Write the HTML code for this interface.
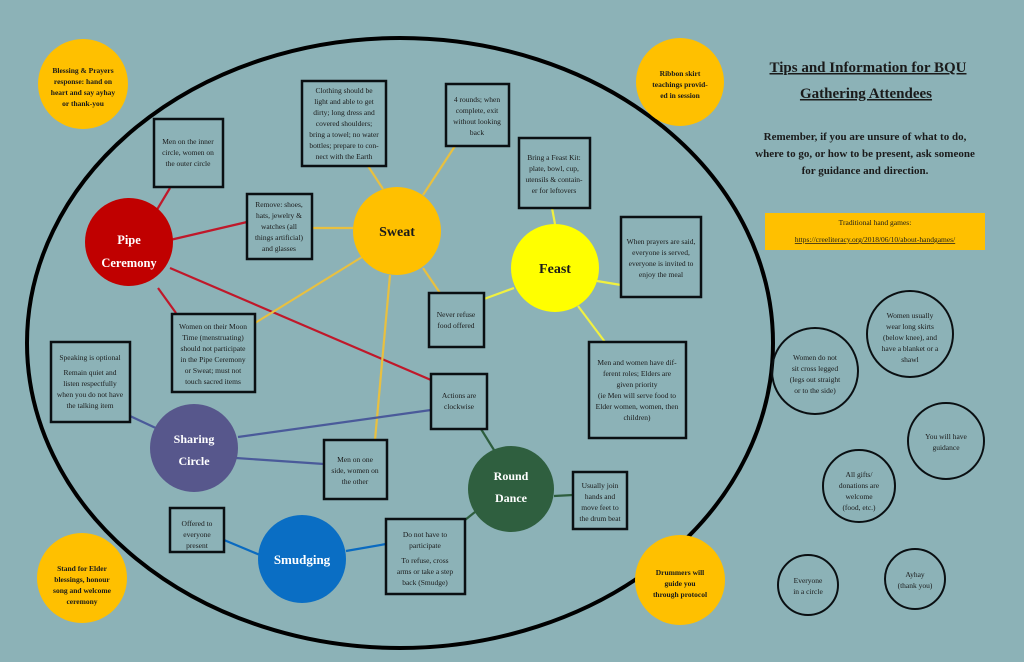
<!DOCTYPE html>
<html><head><meta charset="utf-8"><style>
html,body{margin:0;padding:0;background:#8cb2b7;}
svg{display:block}
text{font-family:"Liberation Serif",serif;fill:#1a1a1a}
.s{font-size:7.5px}
.b{font-size:14px;font-weight:bold}
</style></head><body>
<svg width="1024" height="662" viewBox="0 0 1024 662" xmlns="http://www.w3.org/2000/svg">
<rect width="1024" height="662" fill="#8cb2b7"/>
<ellipse cx="400" cy="343" rx="373" ry="305" fill="none" stroke="#000" stroke-width="4"/>
<g stroke-width="2.2" fill="none">
<g stroke="#c0182a">
<line x1="152" y1="218" x2="170" y2="188"/>
<line x1="170" y1="240" x2="247" y2="222"/>
<line x1="158" y1="288" x2="176" y2="313"/>
<line x1="170" y1="268" x2="431" y2="380"/>
</g>
<g stroke="#e8c040">
<line x1="383" y1="189" x2="368" y2="166"/>
<line x1="423" y1="195" x2="455" y2="146"/>
<line x1="353" y1="228" x2="313" y2="228"/>
<line x1="362" y1="257" x2="255" y2="323"/>
<line x1="390" y1="275" x2="375" y2="440"/>
<line x1="423" y1="268" x2="440" y2="293"/>
</g>
<g stroke="#f0f040">
<line x1="555" y1="224" x2="552" y2="208"/>
<line x1="597" y1="281" x2="621" y2="285"/>
<line x1="578" y1="306" x2="605" y2="342"/>
<line x1="514" y1="288" x2="484" y2="299"/>
</g>
<g stroke="#4a5a9a">
<line x1="130" y1="416" x2="160" y2="430"/>
<line x1="238" y1="437" x2="431" y2="410"/>
<line x1="236" y1="458" x2="324" y2="464"/>
</g>
<g stroke="#2e5e3e">
<line x1="481" y1="429" x2="494" y2="450"/>
<line x1="554" y1="496" x2="573" y2="495"/>
<line x1="475" y1="512" x2="465" y2="520"/>
</g>
<g stroke="#0a6ac0">
<line x1="224" y1="540" x2="260" y2="555"/>
<line x1="346" y1="551" x2="386" y2="544"/>
</g>
</g>
<g fill="#ffc000">
<circle cx="83" cy="84" r="45"/><circle cx="680" cy="82" r="44"/>
<circle cx="82" cy="578" r="45"/><circle cx="680" cy="580" r="45"/>
</g>
<g class="s" text-anchor="middle" font-weight="bold">
<text x="83" y="73">Blessing &amp; Prayers</text><text x="83" y="84">response: hand on</text><text x="83" y="95">heart and say ayhay</text><text x="83" y="106">or thank-you</text>
<text x="680" y="76">Ribbon skirt</text><text x="680" y="87">teachings provid-</text><text x="680" y="98">ed in session</text>
<text x="82" y="571">Stand for Elder</text><text x="82" y="582">blessings, honour</text><text x="82" y="593">song and welcome</text><text x="82" y="604">ceremony</text>
<text x="680" y="575">Drummers will</text><text x="680" y="586">guide you</text><text x="680" y="597">through protocol</text>
</g>
<circle cx="129" cy="242" r="44" fill="#c00000"/>
<circle cx="397" cy="231" r="44" fill="#ffc000"/>
<circle cx="555" cy="268" r="44" fill="#ffff00"/>
<circle cx="194" cy="448" r="44" fill="#57578c"/>
<circle cx="511" cy="489" r="43" fill="#2f5f3f"/>
<circle cx="302" cy="559" r="44" fill="#0a6ec4"/>
<g class="b" text-anchor="middle">
<text x="129" y="244" style="fill:#fff;font-size:12.5px">Pipe</text><text x="129" y="267" style="fill:#fff;font-size:12.5px">Ceremony</text>
<text x="397" y="236">Sweat</text>
<text x="555" y="273">Feast</text>
<text x="194" y="443" style="fill:#fff;font-size:12px">Sharing</text><text x="194" y="465" style="fill:#fff;font-size:12px">Circle</text>
<text x="511" y="480" style="fill:#fff;font-size:12px">Round</text><text x="511" y="502" style="fill:#fff;font-size:12px">Dance</text>
<text x="302" y="564" style="fill:#fff;font-size:13px">Smudging</text>
</g>
<g fill="none" stroke="#0a0f12" stroke-width="2.5">
<rect x="154" y="119" width="69" height="68"/>
<rect x="302" y="81" width="84" height="85"/>
<rect x="446" y="84" width="63" height="62"/>
<rect x="247" y="194" width="65" height="65"/>
<rect x="519" y="138" width="71" height="70"/>
<rect x="621" y="217" width="80" height="80"/>
<rect x="429" y="293" width="55" height="54"/>
<rect x="172" y="314" width="83" height="78"/>
<rect x="589" y="342" width="97" height="96"/>
<rect x="431" y="374" width="56" height="55"/>
<rect x="51" y="342" width="79" height="80"/>
<rect x="324" y="440" width="63" height="59"/>
<rect x="573" y="472" width="54" height="57"/>
<rect x="170" y="508" width="54" height="44"/>
<rect x="386" y="519" width="79" height="75"/>
</g>
<g class="s" text-anchor="middle">
<text x="188" y="144">Men on the inner</text><text x="188" y="155">circle, women on</text><text x="188" y="166">the outer circle</text>
<text x="344" y="93">Clothing should be</text><text x="344" y="104">light and able to get</text><text x="344" y="115">dirty; long dress and</text><text x="344" y="126">covered shoulders;</text><text x="344" y="137">bring a towel; no water</text><text x="344" y="148">bottles; prepare to con-</text><text x="344" y="159">nect with the Earth</text>
<text x="477" y="102">4 rounds; when</text><text x="477" y="113">complete, exit</text><text x="477" y="124">without looking</text><text x="477" y="135">back</text>
<text x="279" y="207">Remove: shoes,</text><text x="279" y="218">hats, jewelry &amp;</text><text x="279" y="229">watches (all</text><text x="279" y="240">things artificial)</text><text x="279" y="251">and glasses</text>
<text x="554" y="160">Bring a Feast Kit:</text><text x="554" y="171">plate, bowl, cup,</text><text x="554" y="182">utensils &amp; contain-</text><text x="554" y="193">er for leftovers</text>
<text x="661" y="244">When prayers are said,</text><text x="661" y="255">everyone is served,</text><text x="661" y="266">everyone is invited to</text><text x="661" y="277">enjoy the meal</text>
<text x="456" y="317">Never refuse</text><text x="456" y="328">food offered</text>
<text x="213" y="329">Women on their Moon</text><text x="213" y="340">Time (menstruating)</text><text x="213" y="351">should not participate</text><text x="213" y="362">in the Pipe Ceremony</text><text x="213" y="373">or Sweat; must not</text><text x="213" y="384">touch sacred items</text>
<text x="637" y="365">Men and women have dif-</text><text x="637" y="376">ferent roles; Elders are</text><text x="637" y="387">given priority</text><text x="637" y="398">(ie Men will serve food to</text><text x="637" y="409">Elder women, women, then</text><text x="637" y="420">children)</text>
<text x="459" y="398">Actions are</text><text x="459" y="409">clockwise</text>
<text x="90" y="360">Speaking is optional</text><text x="90" y="375">Remain quiet and</text><text x="90" y="386">listen respectfully</text><text x="90" y="397">when you do not have</text><text x="90" y="408">the talking item</text>
<text x="355" y="462">Men on one</text><text x="355" y="473">side, women on</text><text x="355" y="484">the other</text>
<text x="600" y="488">Usually join</text><text x="600" y="499">hands and</text><text x="600" y="510">move feet to</text><text x="600" y="521">the drum beat</text>
<text x="197" y="526">Offered to</text><text x="197" y="537">everyone</text><text x="197" y="548">present</text>
<text x="425" y="537">Do not have to</text><text x="425" y="548">participate</text><text x="425" y="563">To refuse, cross</text><text x="425" y="574">arms or take a step</text><text x="425" y="585">back (Smudge)</text>
</g>
<g text-anchor="middle" style="font-weight:bold">
<text x="868" y="72" style="font-size:15px;text-decoration:underline">Tips and Information for BQU</text>
<text x="866" y="98" style="font-size:15px;text-decoration:underline">Gathering Attendees</text>
<text x="865" y="140" style="font-size:11px">Remember, if you are unsure of  what to do,</text>
<text x="865" y="157" style="font-size:11px">where to go, or how to be present, ask someone</text>
<text x="865" y="174" style="font-size:11px">for guidance and direction.</text>
</g>
<rect x="765" y="213" width="220" height="37" fill="#ffc000"/>
<text class="s" x="875" y="225" text-anchor="middle">Traditional hand games:</text>
<text class="s" x="875" y="242" text-anchor="middle" style="text-decoration:underline">https://creeliteracy.org/2018/06/10/about-handgames/</text>
<g fill="none" stroke="#0a0f12" stroke-width="2">
<circle cx="910" cy="334" r="43"/><circle cx="815" cy="371" r="43"/>
<circle cx="946" cy="441" r="38"/><circle cx="859" cy="486" r="36"/>
<circle cx="808" cy="585" r="30"/><circle cx="915" cy="579" r="30"/>
</g>
<g class="s" text-anchor="middle">
<text x="910" y="318">Women usually</text><text x="910" y="329">wear long skirts</text><text x="910" y="340">(below knee), and</text><text x="910" y="351">have a blanket or a</text><text x="910" y="362">shawl</text>
<text x="815" y="360">Women do not</text><text x="815" y="371">sit cross legged</text><text x="815" y="382">(legs out straight</text><text x="815" y="393">or to the side)</text>
<text x="946" y="439">You will have</text><text x="946" y="450">guidance</text>
<text x="859" y="477">All gifts/</text><text x="859" y="488">donations are</text><text x="859" y="499">welcome</text><text x="859" y="510">(food, etc.)</text>
<text x="808" y="583">Everyone</text><text x="808" y="594">in a circle</text>
<text x="915" y="577">Ayhay</text><text x="915" y="588">(thank you)</text>
</g>
</svg>
</body></html>
